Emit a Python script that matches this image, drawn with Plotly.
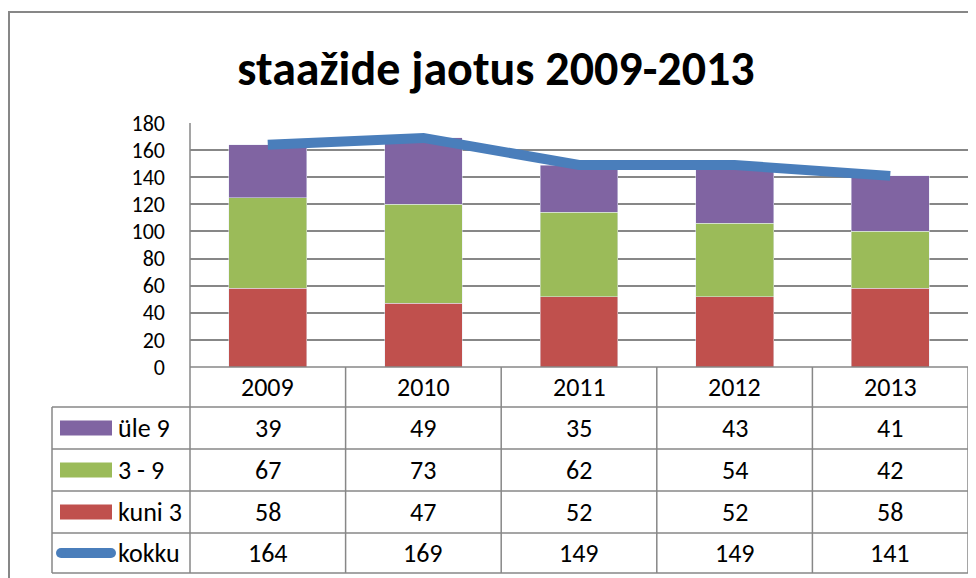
import plotly.graph_objects as go

years = ["2009", "2010", "2011", "2012", "2013"]
ule9 = [39, 49, 35, 43, 41]
kolm_9 = [67, 73, 62, 54, 42]
kuni3 = [58, 47, 52, 52, 58]
kokku = [164, 169, 149, 149, 141]

OFF = 8  # page body margin
W, H = 976 - OFF, 578 - OFF
L, R, T, B = 190 - OFF, 16 - OFF, 123 - OFF, 578 - 367
FONT = "Carlito, Lato, Liberation Sans, sans-serif"
GRID = "#878787"
FS = 26

red = "#C0504D"
green = "#9BBB59"
purple = "#8064A2"
blue = "#4A7EBB"


def px(x):
    # page pixel -> paper x
    return (x - OFF - L) / (W - L - R)


def py(y):
    # page pixel -> paper y
    return (H - B - (y - OFF)) / (H - T - B)


xs = list(range(len(years)))

fig = go.Figure()
fig.add_trace(go.Bar(x=xs, y=kuni3, name="kuni 3", marker_color=red, width=0.5))
fig.add_trace(go.Bar(x=xs, y=kolm_9, name="3 - 9", marker_color=green, width=0.5))
fig.add_trace(go.Bar(x=xs, y=ule9, name="üle 9", marker_color=purple, width=0.5))
fig.add_trace(go.Scatter(x=xs, y=kokku, name="kokku", mode="lines",
                         line=dict(color=blue, width=10)))

# data table under the chart
row_top = [367, 407, 449, 491, 533, 573]
rows = [("üle 9", ule9, purple), ("3 - 9", kolm_9, green),
        ("kuni 3", kuni3, red), ("kokku", kokku, blue)]
shapes = []
annots = []
line = dict(color=GRID, width=1.5)

shapes.append(dict(type="line", xref="paper", yref="paper", x0=0, x1=1,
                   y0=py(row_top[0]), y1=py(row_top[0]), line=line))
for yy in row_top[1:]:
    shapes.append(dict(type="line", xref="paper", yref="paper", x0=px(52), x1=1,
                       y0=py(yy), y1=py(yy), line=line))
shapes.append(dict(type="line", xref="paper", yref="paper", x0=px(52), x1=px(52),
                   y0=py(row_top[1]), y1=py(row_top[-1]), line=line))
shapes.append(dict(type="line", xref="paper", yref="paper", x0=0, x1=0,
                   y0=1, y1=py(row_top[-1]), line=line))
for i in xs:
    xb = i + 0.5
    shapes.append(dict(type="line", xref="x", yref="paper", x0=xb, x1=xb,
                       y0=py(row_top[0]), y1=py(row_top[-1]), line=line))

for i, yr in zip(xs, years):
    annots.append(dict(x=i, xref="x", yref="paper", y=py((row_top[0] + row_top[1]) / 2),
                       yanchor="middle", text=yr, showarrow=False,
                       font=dict(size=FS, color="black")))

for r, (name, vals, col) in enumerate(rows):
    ymid = (row_top[r + 1] + row_top[r + 2]) / 2
    yc = py(ymid)
    for i, v in zip(xs, vals):
        annots.append(dict(x=i, xref="x", yref="paper", y=yc, yanchor="middle",
                           text=str(v), showarrow=False, font=dict(size=FS, color="black")))
    annots.append(dict(x=px(116), xref="paper", yref="paper", y=yc, text=name,
                       xanchor="left", yanchor="middle", showarrow=False,
                       font=dict(size=FS, color="black")))
    if name == "kokku":
        shapes.append(dict(type="line", xref="paper", yref="paper", x0=px(61), x1=px(111),
                           y0=yc, y1=yc, line=dict(color=col, width=10)))
        for cx in (61, 111):
            shapes.append(dict(type="circle", xref="paper", yref="paper",
                               x0=px(cx - 5), x1=px(cx + 5), y0=py(ymid + 5),
                               y1=py(ymid - 5), fillcolor=col, line_width=0))
    else:
        shapes.append(dict(type="rect", xref="paper", yref="paper", x0=px(60), x1=px(112),
                           y0=py(ymid + 7.5), y1=py(ymid - 7.5),
                           fillcolor=col, line_width=0))

# outer chart border
shapes.append(dict(type="rect", xref="paper", yref="paper", x0=px(9), x1=px(1000),
                   y0=py(12), y1=py(600), line=dict(color=GRID, width=2), layer="below"))

fig.update_layout(
    width=W, height=H,
    margin=dict(l=L, r=R, t=T, b=B),
    barmode="stack",
    showlegend=False,
    plot_bgcolor="white",
    paper_bgcolor="white",
    font=dict(family=FONT, color="black"),
    title=dict(text="<b>staažide jaotus 2009-2013</b>", x=(496 - OFF) / W, xanchor="center",
               y=1 - (68 - OFF) / H, yanchor="middle", font=dict(size=48, color="black")),
    shapes=shapes,
    annotations=annots,
    hovermode=False,
)
fig.update_xaxes(range=[-0.5, 4.5], showticklabels=False, showgrid=False,
                 showline=False, zeroline=False)
fig.update_yaxes(range=[0, 180], dtick=20, showgrid=True, gridcolor=GRID, gridwidth=1.5,
                 showline=False, zeroline=False, ticks="", ticklabelstandoff=24,
                 tickfont=dict(size=22, color="black"))

fig.write_html("out.html")
